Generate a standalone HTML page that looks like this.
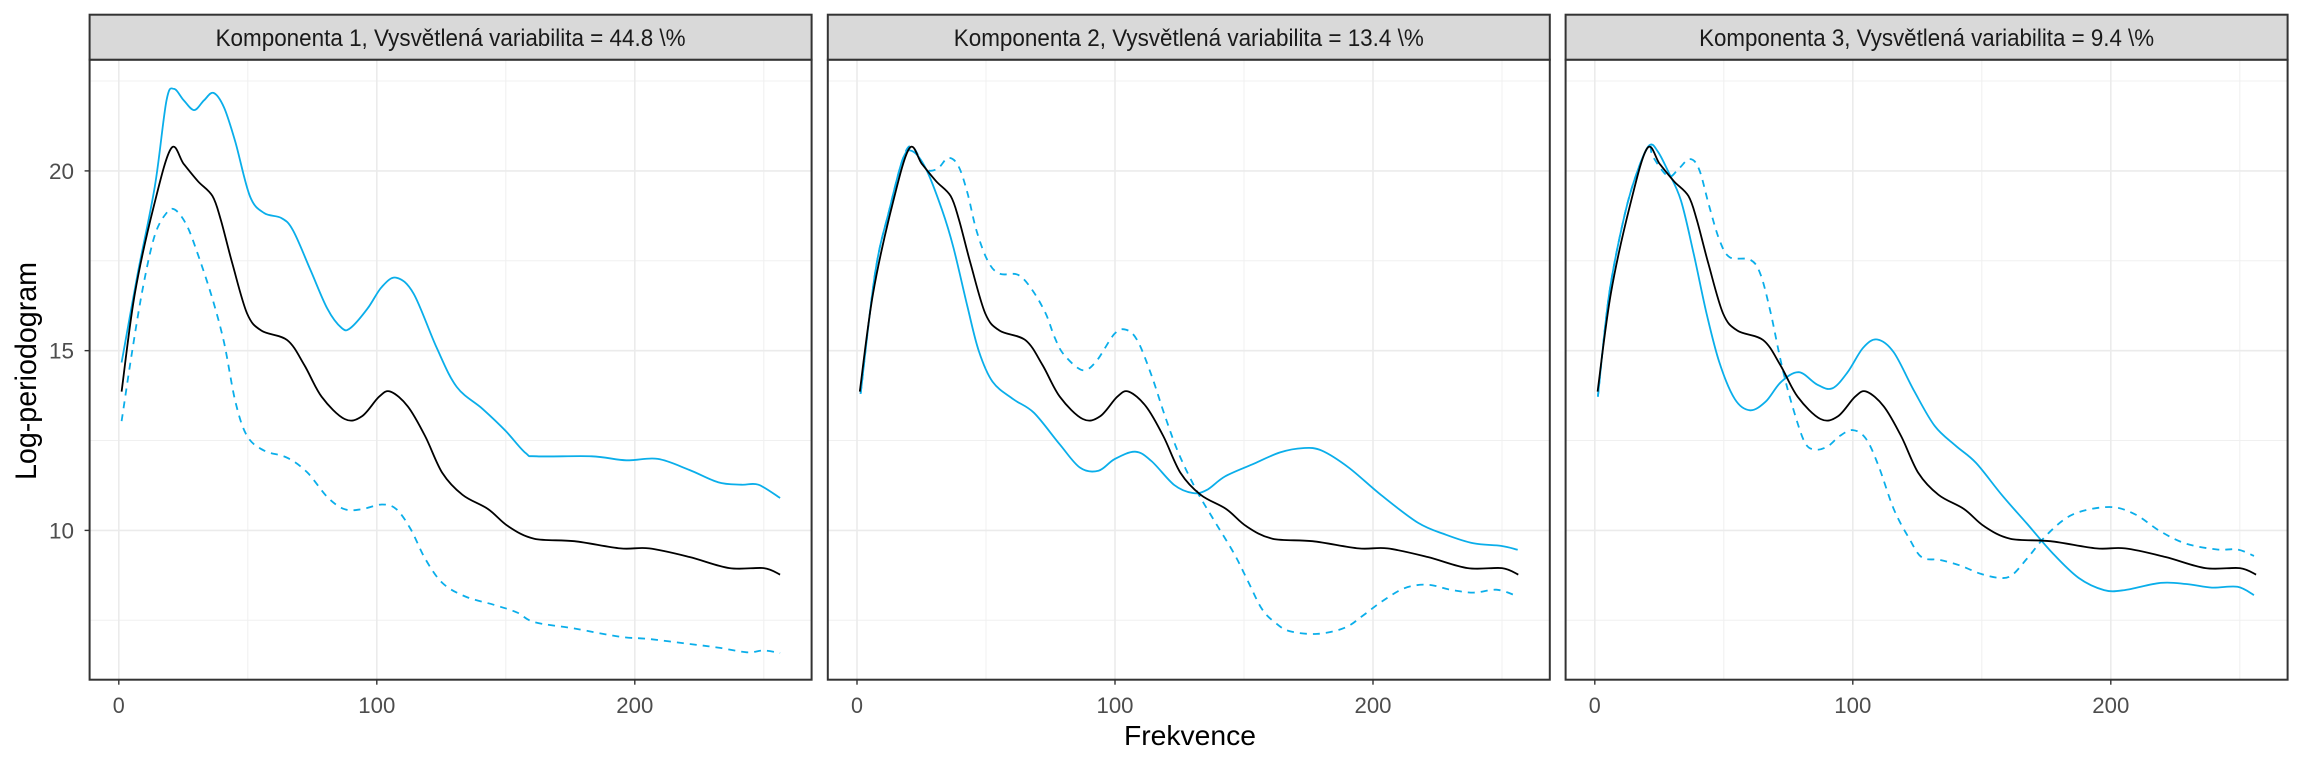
<!DOCTYPE html>
<html><head><meta charset="utf-8"><style>
html,body{margin:0;padding:0;background:#fff;}
svg{display:block;}
text{font-family:"Liberation Sans",sans-serif;}
</style></head><body>
<svg id="s" width="2304" height="768" xmlns="http://www.w3.org/2000/svg"></svg>
<script>
const S=document.getElementById('s');
const NS='http://www.w3.org/2000/svg';
function el(t,a,txt){const e=document.createElementNS(NS,t);for(const k in a)e.setAttribute(k,a[k]);if(txt!==undefined)e.textContent=txt;S.appendChild(e);return e;}
const panels=[89.6,827.8,1565.6], PW=722, TOP=59.7, BOT=679.7, STOP=14.7;
const titles=["Komponenta 1, Vysvětlená variabilita = 44.8 \\%","Komponenta 2, Vysvětlená variabilita = 13.4 \\%","Komponenta 3, Vysvětlená variabilita = 9.4 \\%"];
const tw=[470,470,455];
function Y(y){return 170.9+(20-y)*35.95;}
const mean=[[1.1,13.86],[6.2,16.58],[13.6,19.03],[20.3,20.63],[25.2,20.19],[30.7,19.71],[36.3,19.3],[39.6,18.62],[44.1,17.4],[49.7,16.04],[55.2,15.56],[65.3,15.29],[71.9,14.6],[78.6,13.72],[87.5,13.1],[94.2,13.17],[100.9,13.72],[105.3,13.86],[112,13.45],[118.7,12.63],[125.4,11.6],[133.2,10.99],[143.2,10.59],[151,10.11],[161,9.77],[176.6,9.7],[194.4,9.5],[205.6,9.5],[221.2,9.26],[236.7,8.95],[250,8.95],[256.3,8.77]];
const p1s=[[1.1,14.67],[7.3,17.13],[14,19.58],[18.5,21.96],[21.4,22.28],[25.2,21.96],[29.2,21.69],[33,21.96],[36.7,22.17],[40.8,21.76],[45.2,20.8],[50.8,19.3],[56.3,18.83],[63,18.69],[67.5,18.35],[74.2,17.26],[80.8,16.17],[86.4,15.63],[89.8,15.63],[96.4,16.17],[102,16.78],[107.6,17.03],[114.3,16.58],[123.2,15.08],[131,13.99],[141,13.38],[149.9,12.77],[157.7,12.15],[162.1,12.06],[183.3,12.06],[196.7,11.95],[208.9,11.99],[221.2,11.68],[232.3,11.34],[241.2,11.27],[247.9,11.27],[256.3,10.9]];
const p1d=[[1.1,13.04],[5.1,14.95],[9.6,16.85],[14,18.22],[18.5,18.83],[21.8,18.92],[26.3,18.49],[30.7,17.67],[36.3,16.44],[40.8,15.22],[45.2,13.58],[49.7,12.63],[56.3,12.22],[65.3,12.02],[73.1,11.61],[80.8,10.93],[87.5,10.59],[94.2,10.59],[102,10.72],[107.6,10.59],[113.1,10.04],[118.7,9.22],[125.4,8.54],[134.3,8.16],[145.4,7.93],[154.3,7.72],[161,7.45],[176.6,7.27],[194.4,7.04],[205.6,6.98],[221.2,6.84],[232.3,6.74],[243.4,6.61],[250,6.66],[256.3,6.59]];
const p2s=[[1.4,13.8],[7.1,17.19],[12.5,18.91],[17.8,20.34],[21.4,20.55],[26.7,20.06],[33,18.91],[37.4,17.86],[42.8,16.23],[47.2,14.99],[52.6,14.13],[60.6,13.65],[68.6,13.27],[78.4,12.41],[86.5,11.74],[93.6,11.66],[99.8,11.98],[107.8,12.19],[114.1,11.93],[123,11.26],[130.1,11.04],[135.5,11.12],[142.6,11.5],[153.3,11.84],[164,12.17],[172.9,12.29],[180.1,12.22],[190.7,11.74],[203.2,10.98],[217.5,10.21],[228.2,9.88],[238.9,9.64],[249.6,9.57],[256.1,9.46]];
const p2d=[[1.4,13.8],[7.1,17.19],[12.5,18.91],[17.8,20.34],[21.4,20.68],[26.7,20.06],[31.2,20.06],[35.3,20.36],[39.2,20.15],[42.8,19.39],[46.3,18.34],[50.8,17.48],[55.3,17.14],[62.4,17.11],[67.7,16.71],[73.1,16.04],[76.6,15.37],[80.2,14.89],[87.3,14.46],[92.7,14.7],[99.8,15.47],[104.3,15.58],[108.7,15.28],[114.1,14.32],[119.4,13.17],[124.8,12.12],[131.9,11.07],[139,10.21],[146.2,9.35],[151.5,8.59],[156.9,7.82],[162,7.44],[167.6,7.2],[178.3,7.12],[189,7.29],[196.1,7.63],[203.2,8.01],[212.1,8.39],[221,8.49],[230,8.35],[238.9,8.27],[247.8,8.35],[254.9,8.2]];
const p3s=[[1.2,13.72],[5.6,16.58],[11.5,18.76],[16.5,19.99],[21.1,20.71],[24.5,20.53],[28.4,19.99],[33.4,19.17],[38.4,17.67],[43.3,16.04],[48.3,14.67],[54.3,13.65],[60.2,13.34],[66.2,13.58],[72.2,14.13],[79.1,14.4],[86.1,14.06],[92,13.95],[98,14.4],[104,15.08],[109.5,15.31],[115.9,14.95],[123.9,13.86],[131.8,12.9],[139.8,12.36],[147.7,11.88],[157.7,10.99],[167.6,10.18],[177.5,9.36],[187.5,8.68],[197.4,8.34],[205.4,8.34],[219.3,8.54],[229.2,8.51],[239.2,8.41],[249.1,8.43],[255.5,8.2]];
const p3d=[[1.2,13.72],[5.6,16.58],[11.5,18.76],[16.5,19.99],[21.1,20.71],[22.5,20.4],[28.4,19.85],[32.4,20.05],[36.8,20.33],[40.4,20.05],[44.3,19.03],[48.3,18.08],[52.3,17.6],[60.2,17.53],[64.2,17.13],[68.2,16.04],[72.2,14.67],[76.1,13.58],[81.1,12.49],[85.1,12.25],[90.1,12.33],[95,12.63],[100,12.79],[105,12.56],[109.9,11.81],[115.9,10.59],[121.9,9.77],[126.8,9.25],[133.8,9.18],[141.7,9.02],[149.7,8.79],[156.7,8.68],[161.6,8.75],[167.6,9.22],[175.5,9.9],[185.5,10.45],[199.4,10.65],[209.3,10.45],[219.3,9.97],[229.2,9.63],[241.2,9.47],[249.1,9.47],[255.5,9.29]];
const series=[[p1s,p1d],[p2s,p2d],[p3s,p3d]];
function path(pts,L){
  const P=pts.map(p=>[L+29.2+2.58*p[0],Y(p[1])]);
  let d='M'+P[0][0].toFixed(1)+','+P[0][1].toFixed(1);
  for(let i=0;i<P.length-1;i++){
    const p0=P[i-1]||P[i],p1=P[i],p2=P[i+1],p3=P[i+2]||P[i+1];
    const c1=[p1[0]+(p2[0]-p0[0])/6,p1[1]+(p2[1]-p0[1])/6];
    const c2=[p2[0]-(p3[0]-p1[0])/6,p2[1]-(p3[1]-p1[1])/6];
    d+=' C'+c1.map(v=>v.toFixed(1))+' '+c2.map(v=>v.toFixed(1))+' '+p2.map(v=>v.toFixed(1));
  }
  return d;
}
panels.forEach((L,i)=>{
  const R=L+PW;
  el('defs',{}).innerHTML='<clipPath id="c'+i+'"><rect x="'+L+'" y="'+TOP+'" width="'+PW+'" height="'+(BOT-TOP)+'"/></clipPath>';
  // grid minor
  [7.5,12.5,17.5,22.5].forEach(v=>el('line',{x1:L,x2:R,y1:Y(v),y2:Y(v),stroke:'#f0f0f0','stroke-width':1}));
  [50,150,250].forEach(v=>{const x=L+29.2+2.58*v;el('line',{x1:x,x2:x,y1:TOP,y2:BOT,stroke:'#f0f0f0','stroke-width':1});});
  [10,15,20].forEach(v=>el('line',{x1:L,x2:R,y1:Y(v),y2:Y(v),stroke:'#ebebeb','stroke-width':1.6}));
  [0,100,200].forEach(v=>{const x=L+29.2+2.58*v;el('line',{x1:x,x2:x,y1:TOP,y2:BOT,stroke:'#ebebeb','stroke-width':1.6});
    el('line',{x1:x,x2:x,y1:BOT,y2:BOT+5,stroke:'#333','stroke-width':1.4});
    const t=el('text',{x:x,y:713,'font-size':22,'text-anchor':'middle',fill:'#4d4d4d'},String(v));
    t.setAttribute('textLength',v==0?12:37);t.setAttribute('lengthAdjust','spacingAndGlyphs');
  });
  const g=el('g',{'clip-path':'url(#c'+i+')',fill:'none'});
  const add=(d,a)=>{const p=document.createElementNS(NS,'path');p.setAttribute('d',d);for(const k in a)p.setAttribute(k,a[k]);g.appendChild(p);};
  add(path(series[i][1],L),{stroke:'#0aaeea','stroke-width':1.8,'stroke-dasharray':'7,6'});
  add(path(series[i][0],L),{stroke:'#0aaeea','stroke-width':1.8});
  add(path(mean,L),{stroke:'#000','stroke-width':1.8});
  el('rect',{x:L,y:TOP,width:PW,height:BOT-TOP,fill:'none',stroke:'#333','stroke-width':2});
  el('rect',{x:L,y:STOP,width:PW,height:TOP-STOP,fill:'#d9d9d9',stroke:'#333','stroke-width':2});
  const t=el('text',{x:L+PW/2,y:46,'font-size':24,'text-anchor':'middle',fill:'#1a1a1a'},titles[i]);
  t.setAttribute('textLength',tw[i]);t.setAttribute('lengthAdjust','spacingAndGlyphs');
});
[10,15,20].forEach(v=>{
  el('line',{x1:84.6,x2:89.6,y1:Y(v),y2:Y(v),stroke:'#333','stroke-width':1.4});
  const t=el('text',{x:74,y:Y(v)+8,'font-size':22,'text-anchor':'end',fill:'#4d4d4d'},String(v));
  t.setAttribute('textLength',25);t.setAttribute('lengthAdjust','spacingAndGlyphs');
});
let t=el('text',{x:0,y:0,'font-size':30,'text-anchor':'middle',fill:'#000',transform:'translate(36,371) rotate(-90)'},'Log-periodogram');
t.setAttribute('textLength',218);t.setAttribute('lengthAdjust','spacingAndGlyphs');
t=el('text',{x:1190,y:745,'font-size':28,'text-anchor':'middle',fill:'#000'},'Frekvence');
t.setAttribute('textLength',132);t.setAttribute('lengthAdjust','spacingAndGlyphs');
</script>
</body></html>
